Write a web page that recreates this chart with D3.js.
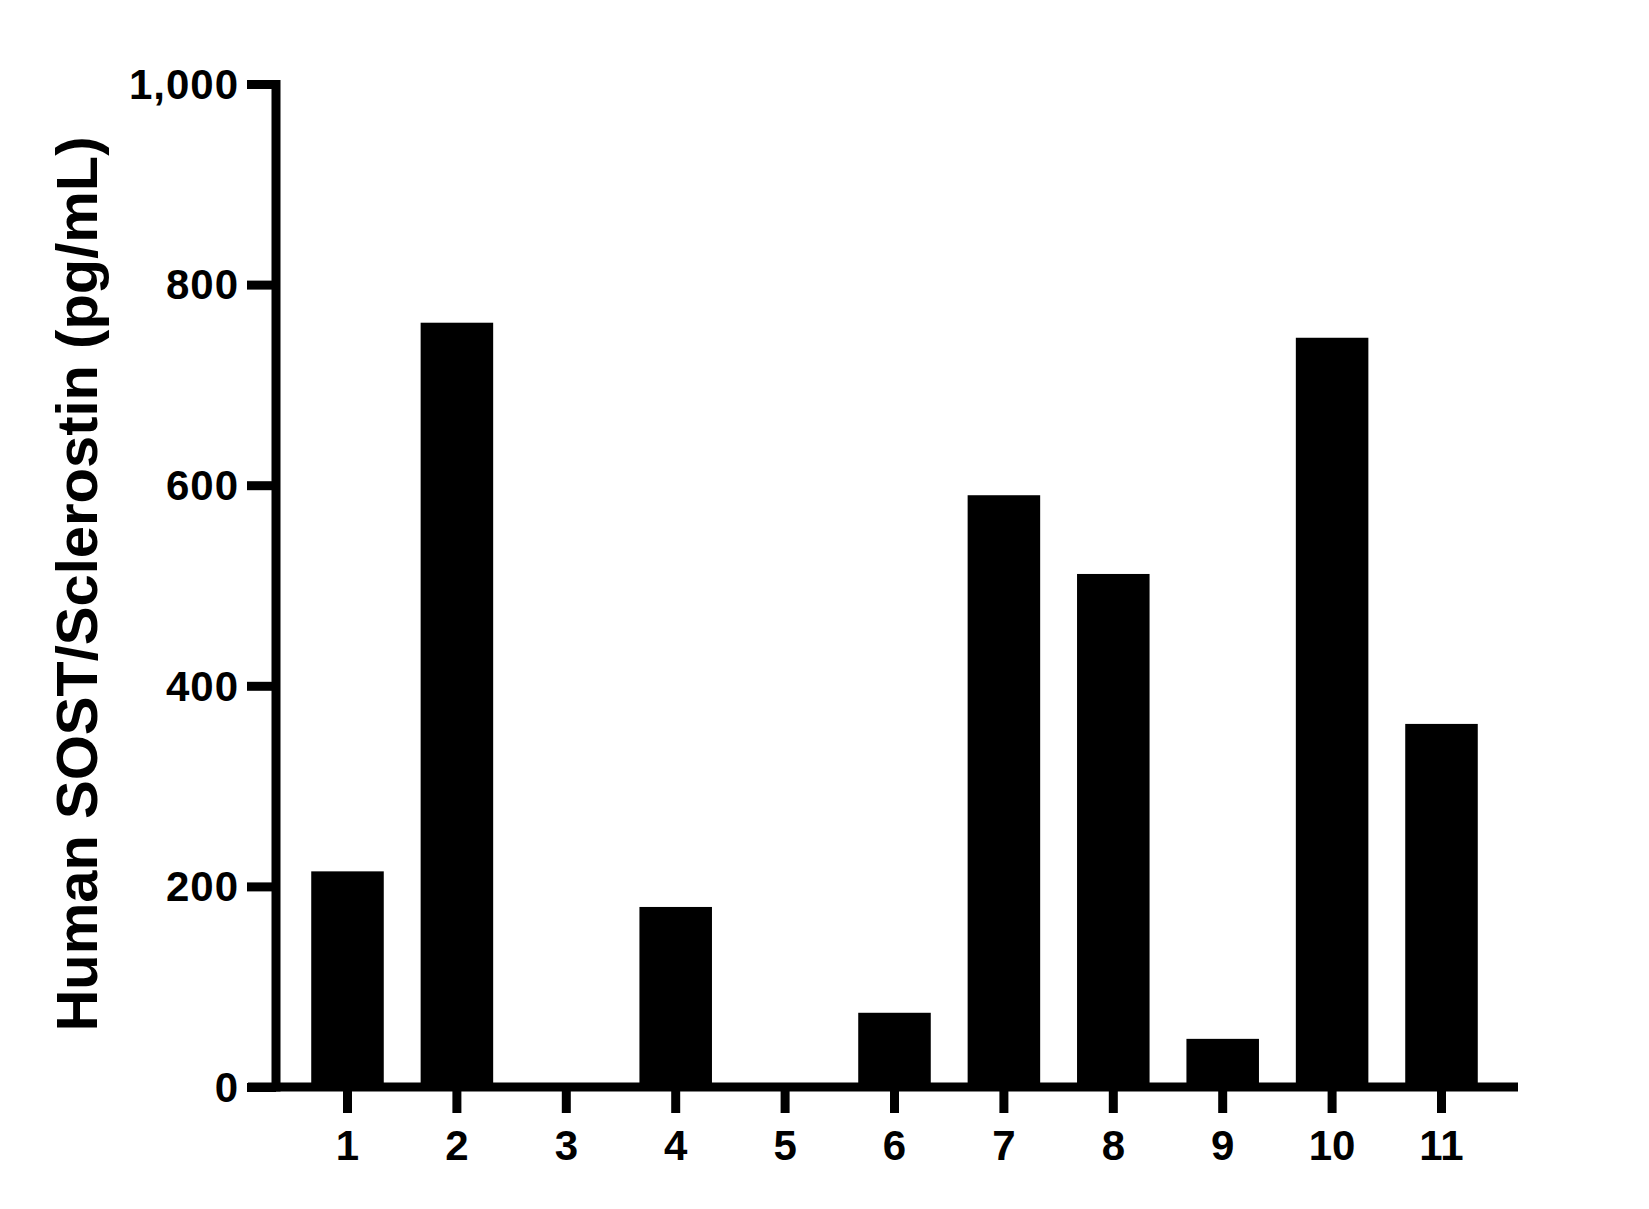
<!DOCTYPE html>
<html>
<head>
<meta charset="utf-8">
<script src="https://cdn.jsdelivr.net/npm/d3@7"></script>
<style>
  html, body { margin: 0; padding: 0; background: #fff; }
  svg { display: block; }
  text { font-family: "Liberation Sans", Arial, Helvetica, sans-serif; font-weight: bold; fill: #000; }
</style>
</head>
<body>
<svg id="chart" width="1649" height="1209"></svg>
<script>
const categories = ["1", "2", "3", "4", "5", "6", "7", "8", "9", "10", "11"];
const values = [215, 762, 0, 179.5, 0, 74, 590, 511.5, 48, 747, 362];
const yTicks = [0, 200, 400, 600, 800, 1000];
const yTitle = "Human SOST/Sclerostin (pg/mL)";

const svg = d3.select("#chart");

const y = d3.scaleLinear().domain([0, 1000]).range([1087, 84]);
const x = d3.scaleBand().domain(categories).range([292.8, 1496.2])
  .paddingInner(0.337).paddingOuter(0.1685);

const axisX0 = 276;   // y-axis position
const strokeW = 9;

// bars
svg.append("g").selectAll("rect").data(values).join("rect")
  .attr("x", (d, i) => x(categories[i]))
  .attr("width", x.bandwidth())
  .attr("y", d => y(d))
  .attr("height", d => y(0) - y(d))
  .attr("fill", "#000");

// y axis
const yAxis = svg.append("g")
  .attr("transform", `translate(${axisX0},0)`)
  .call(d3.axisLeft(y).tickValues(yTicks).tickSize(29).tickSizeOuter(0).tickPadding(8)
    .tickFormat(d3.format(",")));
yAxis.select(".domain").remove();
yAxis.selectAll(".tick line").attr("stroke", "#000").attr("stroke-width", strokeW);
yAxis.selectAll(".tick text").attr("font-size", 42).attr("font-family", null)
  .style("letter-spacing", "1px").attr("dy", "0.34em");

svg.append("line")
  .attr("x1", axisX0).attr("x2", axisX0)
  .attr("y1", y(1000) - 4).attr("y2", y(0) + 4.5)
  .attr("stroke", "#000").attr("stroke-width", strokeW);

// x axis
const xAxis = svg.append("g")
  .attr("transform", `translate(0,${y(0)})`)
  .call(d3.axisBottom(x).tickSize(26).tickSizeOuter(0).tickPadding(17));
xAxis.select(".domain").remove();
xAxis.selectAll(".tick line").attr("stroke", "#000").attr("stroke-width", strokeW);
xAxis.selectAll(".tick text").attr("font-size", 42).attr("font-family", null);

svg.append("line")
  .attr("x1", 248).attr("x2", 1518)
  .attr("y1", y(0)).attr("y2", y(0))
  .attr("stroke", "#000").attr("stroke-width", strokeW);

// y title
svg.append("text")
  .attr("transform", `translate(97,584) rotate(-90)`)
  .attr("text-anchor", "middle")
  .attr("font-size", 57)
  .attr("textLength", 895)
  .attr("lengthAdjust", "spacingAndGlyphs")
  .text(yTitle);
</script>
</body>
</html>
